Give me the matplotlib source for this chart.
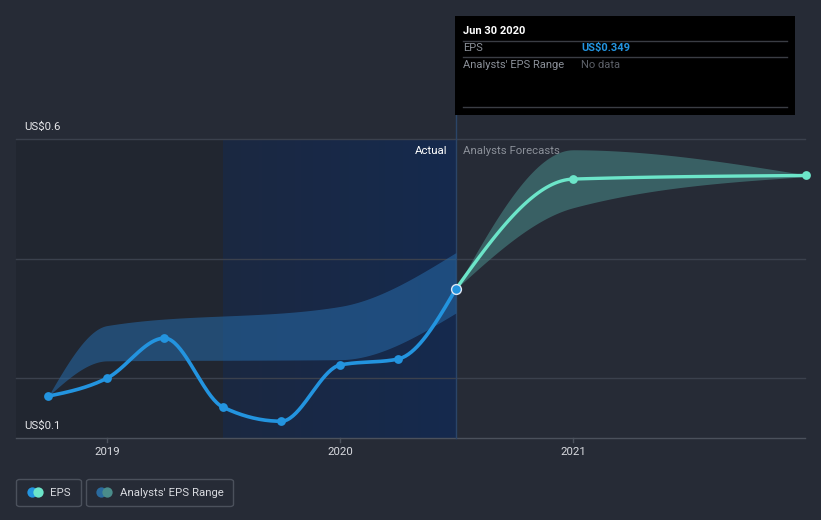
import numpy as np
import pandas as pd
import matplotlib
matplotlib.use("Agg")
import matplotlib.pyplot as plt
from matplotlib.patches import FancyBboxPatch, Rectangle
from matplotlib.colors import LinearSegmentedColormap

plt.rcParams['font.family'] = ['Roboto', 'DejaVu Sans']

# ---------------- data ----------------
eps_dates = ["2018-09-30", "2018-12-31", "2019-03-31", "2019-06-30", "2019-09-30",
             "2019-12-31", "2020-03-31", "2020-06-30"]
eps_values = [0.170, 0.200, 0.267, 0.152, 0.128, 0.222, 0.232, 0.349]

fc_dates = ["2020-06-30", "2020-12-31", "2021-12-31"]
fc_values = [0.349, 0.533, 0.539]

hist_range_dates = ["2018-09-30", "2018-12-31", "2019-12-31", "2020-06-30"]
hist_range_high = [0.170, 0.288, 0.320, 0.410]
hist_range_low = [0.170, 0.229, 0.231, 0.309]

fc_range_dates = ["2020-06-30", "2020-12-31", "2021-12-31"]
fc_range_high = [0.349, 0.582, 0.540]
fc_range_low = [0.349, 0.485, 0.537]

y_ticks = [0.1, 0.6]
y_tick_labels = ["US$0.1", "US$0.6"]
grid_values = [0.2, 0.4, 0.6]
x_tick_years = [2019, 2020, 2021]

tooltip_date = "Jun 30 2020"
tooltip_eps = "US$0.349"

# ---------------- helpers ----------------
def dec_year(s):
    d = pd.Timestamp(s)
    n = 366 if d.is_leap_year else 365
    return d.year + d.dayofyear / n

def monotone(xs, ys, n=40):
    x = np.asarray(xs, float); y = np.asarray(ys, float)
    m = len(x)
    h = np.diff(x); s = np.diff(y) / h
    t = np.zeros(m)
    for i in range(1, m - 1):
        h0, h1, s0, s1 = h[i-1], h[i], s[i-1], s[i]
        p = (s0 * h1 + s1 * h0) / (h0 + h1)
        t[i] = (np.sign(s0) + np.sign(s1)) * min(abs(s0), abs(s1), 0.5 * abs(p))
    if m == 2:
        t[0] = t[1] = s[0]
    else:
        t[0] = (3 * s[0] - t[1]) / 2
        t[-1] = (3 * s[-1] - t[-2]) / 2
    X, Y = [], []
    for i in range(m - 1):
        u = np.linspace(0, 1, n, endpoint=(i == m - 2))
        hh = h[i]
        h00 = 2*u**3 - 3*u**2 + 1; h10 = u**3 - 2*u**2 + u
        h01 = -2*u**3 + 3*u**2; h11 = u**3 - u**2
        X.append(x[i] + u * hh)
        Y.append(h00*y[i] + h10*hh*t[i] + h01*y[i+1] + h11*hh*t[i+1])
    return np.concatenate(X), np.concatenate(Y)

# pixel <-> data mapping (axes fills the figure)
W, H = 821, 520
PX_PER_YEAR = 233.0
X2019 = 107.0
PX_PER_UNIT = 598.0
Y06 = 139.0
x_left = 2019 - X2019 / PX_PER_YEAR
x_right = 2019 + (W - X2019) / PX_PER_YEAR
y_top = 0.6 + Y06 / PX_PER_UNIT
y_bot = 0.6 - (H - Y06) / PX_PER_UNIT

def px2x(p): return x_left + p / PX_PER_YEAR
def px2y(p): return y_top - p / PX_PER_UNIT

BG = "#262b36"
fig = plt.figure(figsize=(W/100, H/100), dpi=100, facecolor=BG)
ax = fig.add_axes([0, 0, 1, 1])
ax.set_facecolor(BG)
ax.axis("off")

plot_x0, plot_x1 = px2x(16), px2x(805)
now = dec_year("2020-06-30")
past_start = dec_year("2019-06-30")
y_base = 0.1

# shaded regions
ax.add_patch(Rectangle((plot_x0, y_base), past_start - plot_x0, 0.6 - y_base,
                       facecolor="#212630", edgecolor="none", zorder=0))
grad = np.linspace(0, 1, 256).reshape(1, -1)
cm = LinearSegmentedColormap.from_list("g", ["#1b2841", "#152a4e"])
ax.imshow(grad, cmap=cm, extent=(past_start, now, y_base, 0.6), aspect="auto",
          zorder=0, interpolation="bilinear")
ax.set_xlim(x_left, x_right)
ax.set_ylim(y_bot, y_top)

# gridlines
for g in grid_values:
    ax.plot([plot_x0, plot_x1], [g, g], color="#3b414d", lw=1, zorder=1)
ax.plot([plot_x0, plot_x1], [y_base, y_base], color="#4b515c", lw=1, zorder=1)

# vertical now line
ax.plot([now, now], [y_base, px2y(115)], color="#2b4568", lw=1, zorder=1)

# x ticks
for yr in x_tick_years:
    ax.plot([yr, yr], [y_base, px2y(442)], color="#4b515c", lw=1, zorder=1)
    ax.text(yr, px2y(452), str(yr), color="#d8dadf", fontsize=8.2,
            ha="center", va="center")

# y labels
for v, lab in zip(y_ticks, y_tick_labels):
    ax.text(px2x(24), v + 12 / PX_PER_UNIT, lab, color="#e6e7ea", fontsize=8.2,
            ha="left", va="center")

# historical range band
hx = [dec_year(d) for d in hist_range_dates]
xs, yh = monotone(hx, hist_range_high)
_, yl = monotone(hx, hist_range_low)
ax.fill_between(xs, yl, yh, color="#2667a3", alpha=0.58, lw=0, zorder=2)

# forecast range band
fx = [dec_year(d) for d in fc_range_dates]
xs2, fh = monotone(fx, fc_range_high)
_, fl = monotone(fx, fc_range_low)
ax.fill_between(xs2, fl, fh, color="#4a8c8a", alpha=0.55, lw=0, zorder=2)

# EPS line
ex = [dec_year(d) for d in eps_dates]
lx, ly = monotone(ex, eps_values)
ax.plot(lx, ly, color="#2394df", lw=2.6, zorder=3, solid_capstyle="round")
ax.scatter(ex[:-1], eps_values[:-1], s=40, color="#2394df", zorder=4, lw=0)

# forecast line
fcx = [dec_year(d) for d in fc_dates]
lx2, ly2 = monotone(fcx, fc_values)
ax.plot(lx2, ly2, color="#6ce5c9", lw=2.4, zorder=3, solid_capstyle="round")
ax.scatter(fcx[1:], fc_values[1:], s=40, color="#6ce5c9", zorder=4, lw=0)
ax.scatter([ex[-1]], [eps_values[-1]], s=50, color="#2394df", edgecolor="#dfe8f5",
           lw=1.0, zorder=5)

# Actual / Analysts Forecasts labels
ax.text(px2x(447), px2y(151), "Actual", color="#ffffff", fontsize=8.2,
        ha="right", va="center", zorder=6)
ax.text(px2x(463), px2y(151), "Analysts Forecasts", color="#8b9099", fontsize=8.2,
        ha="left", va="center", zorder=6)

# tooltip
ax.add_patch(Rectangle((px2x(455), px2y(115)), (795 - 455) / PX_PER_YEAR,
                       (115 - 16) / PX_PER_UNIT, facecolor="#000000",
                       edgecolor="none", zorder=7))
for yy in [41, 57, 107]:
    ax.plot([px2x(463), px2x(787)], [px2y(yy), px2y(yy)], color="#3a3d44", lw=1, zorder=8)
ax.text(px2x(463), px2y(31), tooltip_date, color="#ffffff", fontsize=8,
        fontweight="bold", ha="left", va="center", zorder=8)
ax.text(px2x(463), px2y(48), "EPS", color="#8b9099", fontsize=8,
        ha="left", va="center", zorder=8)
ax.text(px2x(581), px2y(48), tooltip_eps, color="#2394df", fontsize=8,
        fontweight="bold", ha="left", va="center", zorder=8)
ax.text(px2x(463), px2y(65), "Analysts' EPS Range", color="#8b9099", fontsize=8,
        ha="left", va="center", zorder=8)
ax.text(px2x(581), px2y(65), "No data", color="#5c6068", fontsize=8,
        ha="left", va="center", zorder=8)

# legend (figure pixel coordinates)
def fbox(x0, y0, x1, y1):
    p = FancyBboxPatch((x0 / W, 1 - y1 / H), (x1 - x0) / W, (y1 - y0) / H,
                       boxstyle="round,pad=0,rounding_size=0.004",
                       transform=fig.transFigure, facecolor="none",
                       edgecolor="#4b515c", lw=1)
    fig.patches.append(p)

fbox(16.5, 479.5, 81.5, 506.5)
fbox(86.5, 479.5, 233.5, 506.5)
for cx, col in [(32, "#2394df"), (38, "#6ce5c9"), (101, "#2a6a9e"), (107, "#4a8c8a")]:
    ax.scatter([px2x(cx)], [px2y(492.5)], s=55, color=col, lw=0, zorder=9)
fig.text(50 / W, 1 - 492.5 / H, "EPS", color="#d8dadf", fontsize=8.2, va="center", ha="left")
fig.text(120 / W, 1 - 492.5 / H, "Analysts' EPS Range", color="#d8dadf", fontsize=8.2,
         va="center", ha="left")

fig.savefig("out.png", dpi=100, facecolor=BG)
